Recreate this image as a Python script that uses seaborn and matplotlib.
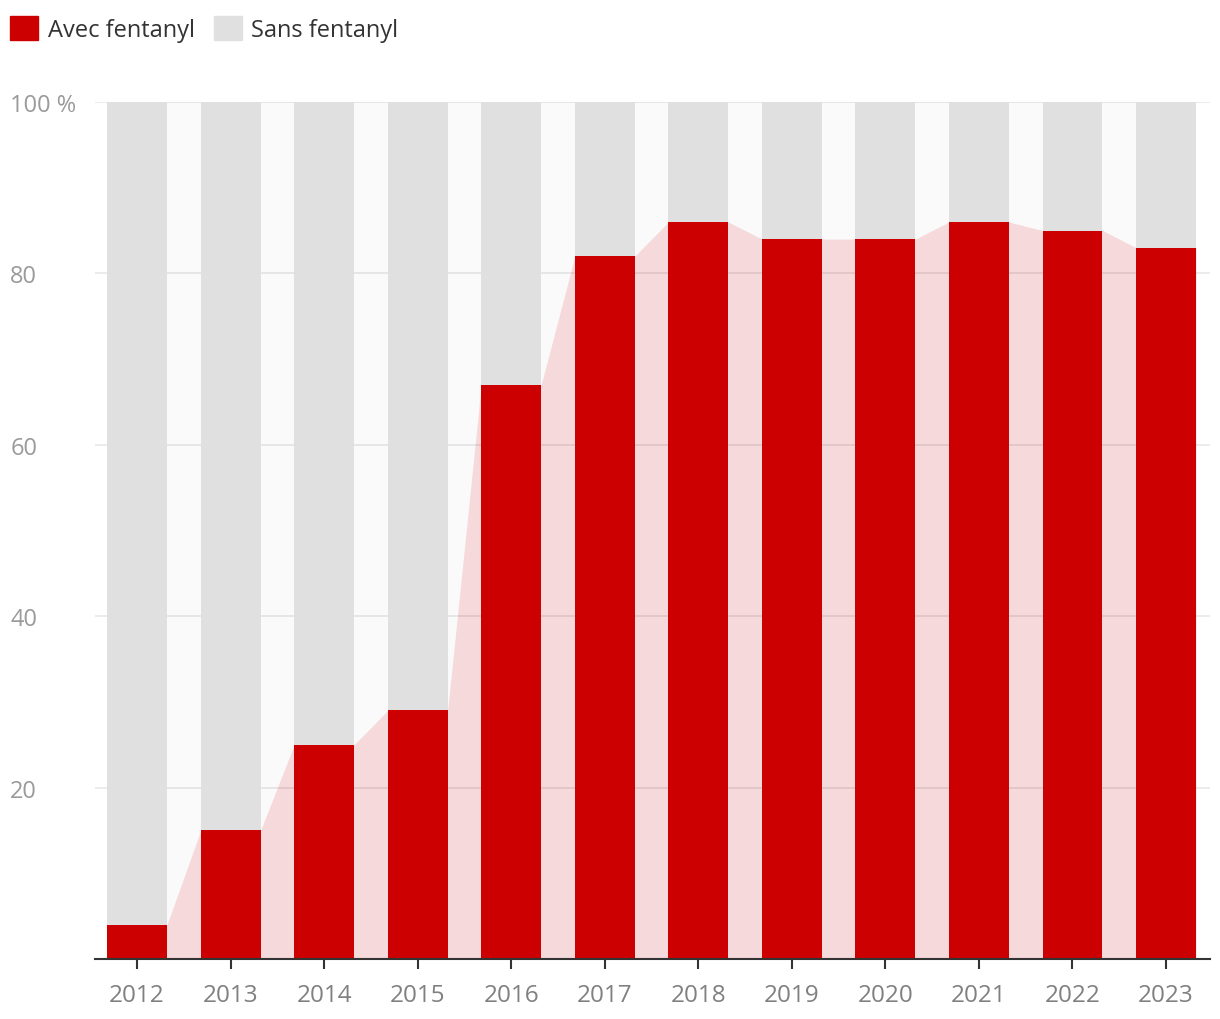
import matplotlib.pyplot as plt
import pandas as pd
import seaborn as sns
from matplotlib.patches import Patch

years = ["2012", "2013", "2014", "2015", "2016", "2017",
         "2018", "2019", "2020", "2021", "2022", "2023"]
avec = [4, 15, 25, 29, 67, 82, 86, 84, 84, 86, 85, 83]
sans = [96, 85, 75, 71, 33, 18, 14, 16, 16, 14, 15, 17]
y_ticks = [20, 40, 60, 80, 100]
y_labels = ["20", "40", "60", "80", "100 %"]

RED = "#cc0000"
GREY = "#e0e0e0"
PINK = "#f6d9da"
GAP = "#fafafa"
BAR_W = 0.64

data = pd.DataFrame({"year": years, "avec": avec, "sans": sans})
data["total"] = data["avec"] + data["sans"]

sns.set_style("white")
plt.rcParams["font.family"] = ["Open Sans", "DejaVu Sans"]

fig = plt.figure(figsize=(12.2, 10.2), dpi=100)
ax = fig.add_axes([95 / 1220, 60 / 1020, 1115 / 1220, 857 / 1020])

# background between bars and pink area joining the bar tops
xs, ys = [], []
for i, v in enumerate(avec):
    xs += [i - BAR_W / 2, i + BAR_W / 2]
    ys += [v, v]
ax.fill_between(xs, 0, 100, color=GAP, lw=0, zorder=0.1)
ax.fill_between(xs, 0, ys, color=PINK, lw=0, zorder=0.2)

sns.barplot(data, x="year", y="total", color=GREY, width=BAR_W,
            saturation=1, linewidth=0, ax=ax, zorder=2)
sns.barplot(data, x="year", y="avec", color=RED, width=BAR_W,
            saturation=1, linewidth=0, ax=ax, zorder=3)

ax.set_xlim(-0.45, len(years) - 1 + 0.47)
ax.set_ylim(0, 100)
ax.set_xlabel("")
ax.set_ylabel("")

ax.set_axisbelow(True)
ax.yaxis.grid(True, color="black", alpha=0.1, lw=1.1, zorder=0.5)
ax.xaxis.grid(False)
ax.set_yticks(y_ticks)
ax.set_yticklabels(y_labels, ha="left")
ax.tick_params(axis="y", length=0, pad=61, labelsize=17, labelcolor="#9a9a9a")
ax.tick_params(axis="x", length=7, width=1.5, color="#333333", pad=10,
               labelsize=17.5, labelcolor="#808080", bottom=True)

for s in ["top", "right", "left"]:
    ax.spines[s].set_visible(False)
ax.spines["bottom"].set_color("#333333")
ax.spines["bottom"].set_linewidth(1.5)
ax.spines["bottom"].set_zorder(5)

handles = [Patch(color=RED, label="Avec fentanyl"),
           Patch(color=GREY, label="Sans fentanyl")]
fig.legend(handles=handles, loc="upper left", bbox_to_anchor=(10 / 1220, 1 - 17 / 1020),
           ncol=2, frameon=False, fontsize=17, handlelength=1.2, handleheight=1.2,
           handletextpad=0.4, columnspacing=0.8, labelcolor="#333333",
           borderpad=0, borderaxespad=0)

fig.savefig("out.png", dpi=100)
